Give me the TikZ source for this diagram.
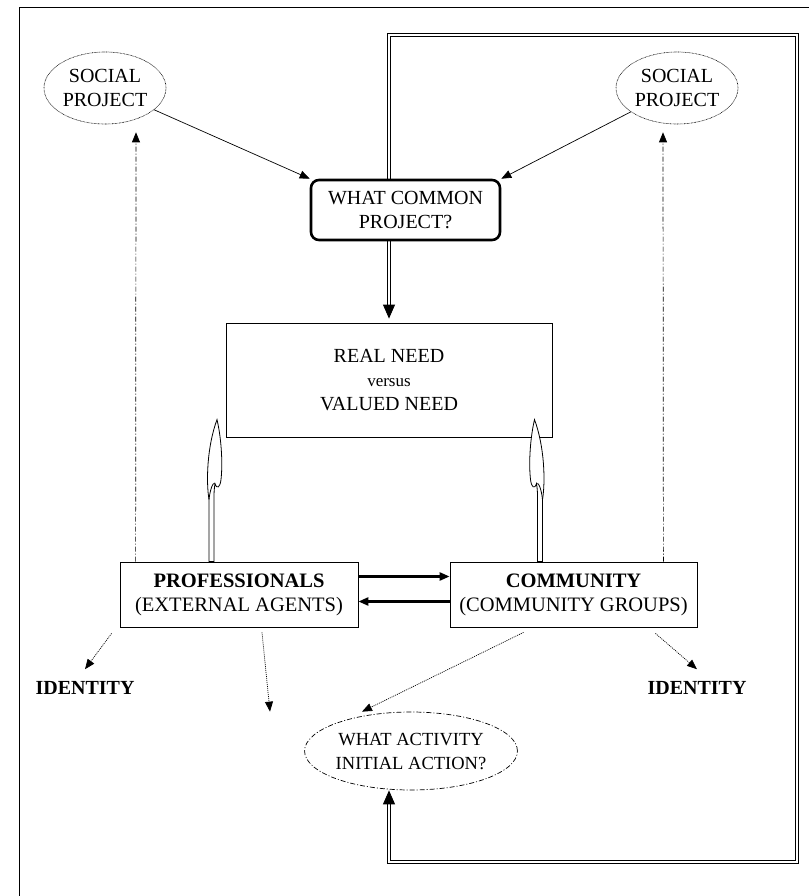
\documentclass[tikz,border=0pt]{standalone}
\usepackage{fontspec}
\setmainfont{Liberation Serif}
\usetikzlibrary{arrows.meta}
\usetikzlibrary{shapes.geometric}
\usetikzlibrary{calc}

\tikzset{
  txt/.style={font=\fontsize{20}{24}\selectfont, align=center, inner sep=0pt},
  box/.style={txt, draw, line width=0.8pt, fill=white},
  bubble/.style={txt, ellipse, draw, fill=white},
  arr/.style={-{Triangle[length=10pt,width=8pt]}, line width=0.7pt},
  dbl/.style={double, double distance=2.2pt, line width=0.8pt},
  dashdot/.style={arr, dash pattern=on 5pt off 2pt on 1pt off 2pt},
  dotarr/.style={arr, dash pattern=on 1pt off 1pt},
  hook/.pic={
    \draw[line width=0.8pt, fill=white] (0,0) -- (0,-62)
      .. controls (-3,-80) and (-2,-115) .. (8,-142)
      .. controls (12,-125) and (14,-100) .. (12,-82)
      .. controls (11,-74) and (8,-72) .. (6,-78)
      .. controls (5,-72) and (5,-68) .. (5,-62) -- (5,0) -- cycle;
    \draw[line width=0.8pt] (0,-62) .. controls (1,-72) and (4,-80) .. (6,-78);
  }
}

\begin{document}
\begin{tikzpicture}[x=1pt, y=-1pt]
  \useasboundingbox (0,0) rectangle (809,896);
  \draw[line width=0.9pt] (19,896) -- (19,7) -- (809,7);

  % boxes
  \node[box, minimum width=326pt, minimum height=114pt] (need) at (389,380)
    {REAL NEED\\{\fontsize{17}{20}\selectfont versus}\\VALUED NEED};
  \node[bubble, font=\fontsize{18.5}{24}\selectfont, dash pattern=on 5pt off 2pt on 1pt off 2pt,
    line width=0.7pt, minimum width=212pt, minimum height=78pt] (act) at (411,751)
    {WHAT ACTIVITY\\INITIAL ACTION?};

  % loop
  \draw[dbl, {Triangle[length=14pt,width=12pt]}-{Triangle[length=14pt,width=12pt]}, shorten >=4pt]
    (act.south -| need.north) -- (need.north |- 0,862) -- (797,862) -- (797,35)
    -- (need.north |- 0,35) -- (need.north);

  \node[box, rounded corners=8pt, line width=2.6pt, minimum width=189pt, minimum height=60pt]
    (common) at (405.5,210) {WHAT COMMON\\PROJECT?};
  \node[box, font=\fontsize{20.5}{24}\selectfont, minimum width=238pt, minimum height=65pt]
    (prof) at (239,594.5) {\textbf{PROFESSIONALS}\\(EXTERNAL AGENTS)};
  \node[box, font=\fontsize{20.5}{24}\selectfont, minimum width=247pt, minimum height=65pt]
    (comm) at (573.5,594.5) {\textbf{COMMUNITY}\\(COMMUNITY GROUPS)};
  \node[bubble, dash pattern=on 0.7pt off 0.7pt, line width=0.6pt,
    minimum width=122pt, minimum height=72pt] (socl) at (105,88) {SOCIAL\\PROJECT};
  \node[bubble, dash pattern=on 0.7pt off 0.7pt, line width=0.6pt,
    minimum width=122pt, minimum height=72pt] (socr) at (677,88) {SOCIAL\\PROJECT};
  \node[txt, font=\fontsize{20}{24}\selectfont\bfseries] (idl) at (85,688) {IDENTITY};
  \node[txt, font=\fontsize{20}{24}\selectfont\bfseries] (idr) at (697,688) {IDENTITY};

  % arrows
  \draw[arr] (socl) -- (common.north west);
  \draw[arr] (socr) -- (common.north east);
  \draw[arr, line width=2.4pt] ([yshift=18pt]prof.east) -- ([yshift=18pt]comm.west);
  \draw[arr, line width=2.4pt] ([yshift=-7pt]comm.west) -- ([yshift=-7pt]prof.east);
  \draw[dashdot] ([xshift=16pt]prof.north west) -- ([xshift=31pt,yshift=-8pt]socl.south);
  \draw[dashdot] ([xshift=-34pt]comm.north east) -- ([xshift=-14pt,yshift=-8pt]socr.south);
  \draw[dotarr] ([xshift=-8pt,yshift=-6pt]prof.south west) -- ([yshift=12pt]idl.north);
  \draw[dotarr] ([xshift=-42pt,yshift=-6pt]comm.south east) -- ([yshift=12pt]idr.north);
  \draw[dotarr] ([xshift=23pt,yshift=-5pt]prof.south) -- ([xshift=-141pt]act.north);
  \draw[dotarr] ([xshift=-50pt,yshift=-5pt]comm.south) -- ([xshift=-49pt]act.north);

  \pic at ([xshift=-30pt]prof.north) {hook};
  \pic[xscale=-1] at ([xshift=-31pt]comm.north) {hook};
\end{tikzpicture}
\end{document}
